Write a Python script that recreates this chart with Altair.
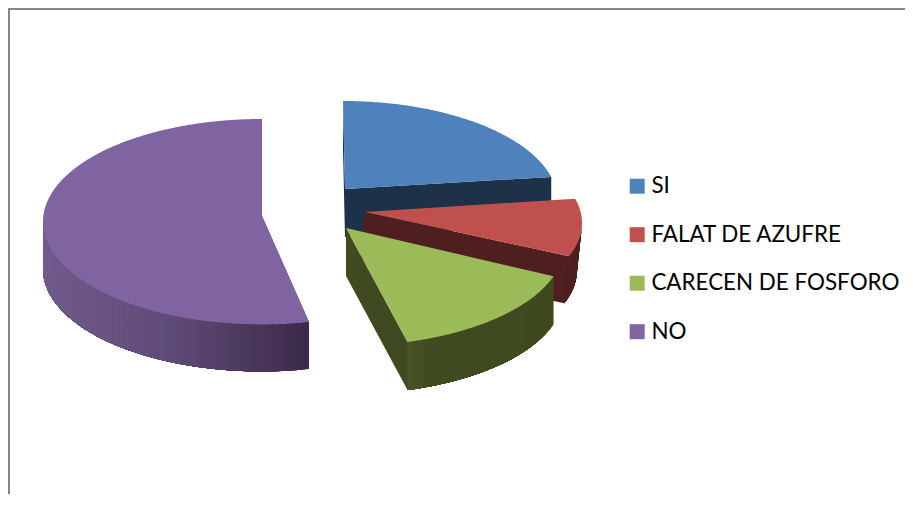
import math
import altair as alt

# Chart values
CATEGORIES = ["SI", "FALAT DE AZUFRE", "CARECEN DE FOSFORO", "NO"]
SHARES = [21.0, 9.5, 15.5, 54.0]
TOP_COLORS = ["#4F81BD", "#C0504D", "#9BBB59", "#8064A2"]

# 3D look of each exploded slice (page pixels): apex, ellipse centre, radii, depth
APEX = [(345, 189), (365, 212), (346, 228), (262, 216)]
CENTRE = [(343, 202), (365, 223), (346, 245.5), (262, 221.7)]
RADII = [(215, 101), (217, 98), (218, 100.6), (219, 102.7)]
DEPTH = [48, 47, 48, 47]
DEPTH_DX = [0, -5, 0, 0]
ANGLE_SHIFT = [(0, 0), (0, 0), (-2, -2), (2, 0)]
# side colour ramps: (page x, rgb)
SIDE_RAMPS = [
    [(0, (29, 49, 73)), (913, (29, 49, 73))],
    [(0, (79, 31, 31)), (913, (79, 31, 31))],
    [(408, (72, 85, 38)), (428, (65, 75, 33)), (560, (63, 73, 32))],
    [(43, (113, 91, 140)), (176, (94, 74, 118)), (309, (60, 42, 73))],
]
CUT_COLORS = ["#1D3149", "#4F1F1F", "#404A20", "#4A3663"]
OFFSET = 8  # page margin


def ramp(stops, x):
    if x <= stops[0][0]:
        c = stops[0][1]
    elif x >= stops[-1][0]:
        c = stops[-1][1]
    else:
        for (x0, c0), (x1, c1) in zip(stops, stops[1:]):
            if x0 <= x <= x1:
                t = (x - x0) / (x1 - x0)
                c = tuple(round(a + (b - a) * t) for a, b in zip(c0, c1))
                break
    return "#%02x%02x%02x" % tuple(c)


def feature(pts, **props):
    ring = [[px - OFFSET, py - OFFSET] for px, py in pts]
    ring.append(ring[0])
    return {
        "type": "Feature",
        "geometry": {"type": "Polygon", "coordinates": [ring]},
        "properties": props,
    }


def rim(i, deg):
    cx, cy = CENTRE[i]
    a, b = RADII[i]
    t = math.radians(deg)
    return (cx + a * math.sin(t), cy - b * math.cos(t))


def down(i, p):
    return (p[0] + DEPTH_DX[i], p[1] + DEPTH[i])


tops, sides = [], []
start = 0.0
total = sum(SHARES)
spans = []
for i, share in enumerate(SHARES):
    end = start + 360.0 * share / total
    spans.append((start + ANGLE_SHIFT[i][0], end + ANGLE_SHIFT[i][1]))
    start = end

for i, name in enumerate(CATEGORIES):
    a0, a1 = spans[i]
    apex = APEX[i]
    n = max(8, int((a1 - a0) * 1.5))
    arc = [rim(i, a0 + (a1 - a0) * k / n) for k in range(n + 1)]
    tops.append(feature([apex] + arc, category=name))

    if i in (0, 3):
        p = arc[0]
        sides.append(feature([p, apex, down(i, apex), down(i, p)], fill=CUT_COLORS[i]))
    if i != 3:
        p = arc[-1]
        sides.append(feature([apex, p, down(i, p), down(i, apex)], fill=CUT_COLORS[i]))
    lo, hi = max(a0, 90.0), min(a1, 270.0)
    if hi > lo:
        strips = max(3, int((hi - lo) * 1.2))
        for k in range(strips):
            deg0 = lo + (hi - lo) * k / strips
            deg1 = lo + (hi - lo) * (k + 1) / strips
            mid = rim(i, (deg0 + deg1) / 2)
            col = ramp(SIDE_RAMPS[i], mid[0])
            m = max(2, int((hi - deg0) / 2))
            wall = [rim(i, deg0 + (hi - deg0) * j / m) for j in range(m + 1)]
            sides.append(
                feature(wall + [down(i, p) for p in reversed(wall)], fill=col)
            )

PROJECTION = dict(type="identity", scale=1, translate=[0, 0])

sides_layer = (
    alt.Chart(alt.InlineData(values=sides))
    .mark_geoshape(strokeWidth=0)
    .encode(fill=alt.Fill("properties.fill:N", scale=None, legend=None))
    .project(**PROJECTION)
)

tops_layer = (
    alt.Chart(alt.InlineData(values=tops))
    .mark_geoshape(strokeWidth=0)
    .encode(
        fill=alt.Fill(
            "properties.category:N",
            scale=alt.Scale(domain=CATEGORIES, range=TOP_COLORS),
            legend=alt.Legend(
                title=None,
                orient="none",
                legendX=618,
                legendY=167,
                symbolType="square",
                symbolSize=225,
                symbolStrokeWidth=0,
                labelFont="Lato",
                labelFontSize=22.4,
                labelColor="#000000",
                labelOffset=3,
                rowPadding=25.5,
                labelLimit=300,
            ),
        )
    )
    .project(**PROJECTION)
)

frame_top = (
    alt.Chart(alt.InlineData(values=[{"f": 1}]))
    .mark_rule(color="#868686", strokeWidth=2)
    .encode(x=alt.value(0), x2=alt.value(897), y=alt.value(1))
)
frame_left = (
    alt.Chart(alt.InlineData(values=[{"f": 1}]))
    .mark_rule(color="#868686", strokeWidth=2)
    .encode(x=alt.value(1), y=alt.value(0), y2=alt.value(486))
)

chart = (
    alt.layer(frame_top, frame_left, sides_layer, tops_layer)
    .resolve_scale(fill="independent")
    .properties(
        width=897,
        height=486,
        padding=0,
        autosize=alt.AutoSizeParams(type="none"),
        background="#ffffff",
    )
    .configure_view(stroke=None)
)

chart.save("out.html", embed_options={"renderer": "svg", "actions": False})
